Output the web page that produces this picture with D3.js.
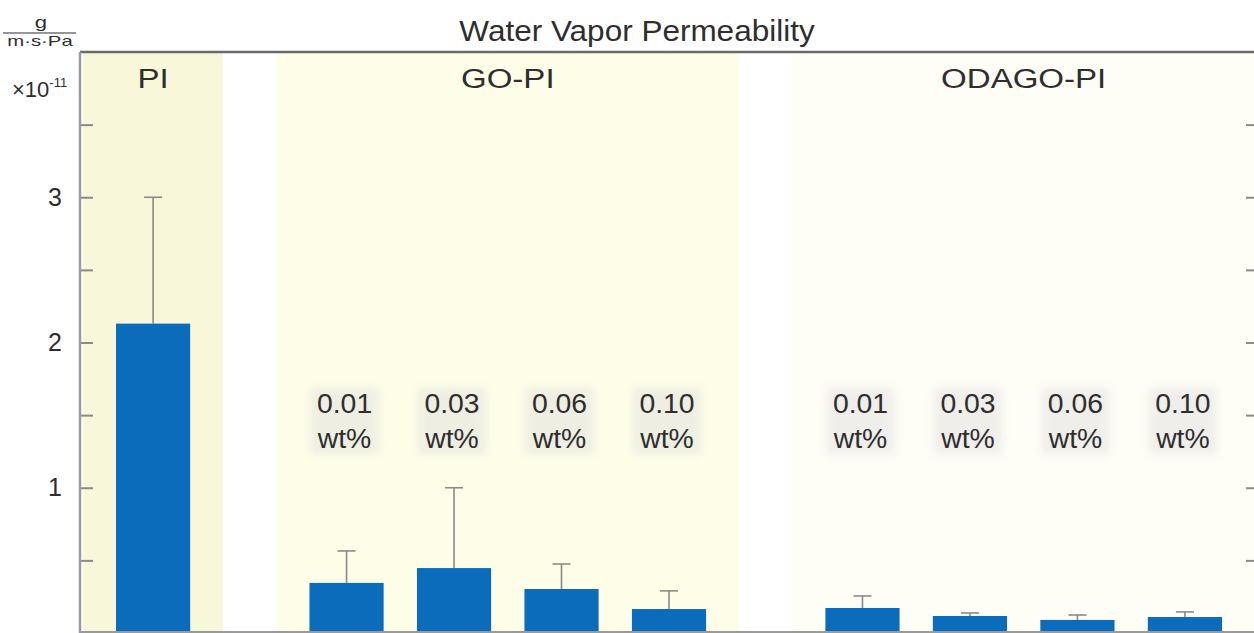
<!DOCTYPE html>
<html>
<head>
<meta charset="utf-8">
<script src="https://cdn.jsdelivr.net/npm/d3@7"></script>
<style>
  html, body { margin: 0; padding: 0; background: #ffffff; }
  svg { display: block; font-family: "Liberation Sans", Arial, sans-serif; }
</style>
</head>
<body>
<svg id="chart" width="1254" height="633"></svg>
<script>
// ---- data ----
const groups = ["PI", "GO-PI", "ODAGO-PI"];
const groupOf = [0, 1, 1, 1, 1, 2, 2, 2, 2];
const concentrations = ["", "0.01", "0.03", "0.06", "0.10", "0.01", "0.03", "0.06", "0.10"];
const values = [2.13, 0.345, 0.447, 0.303, 0.165, 0.172, 0.117, 0.090, 0.110];
const errorTop = [3.00, 0.565, 1.00, 0.475, 0.290, 0.255, 0.138, 0.124, 0.145];
const yTickValues = [0.5, 1, 1.5, 2, 2.5, 3, 3.5];
const yTickLabels = ["", "1", "", "2", "", "3", ""];
const titleText = "Water Vapor Permeability";
const unitNum = "g";
const unitDen = "m·s·Pa";

// ---- layout ----
const svg = d3.select("#chart");
const mLeft = 80, mRight = 1258, mTop = 52, mBottom = 633;
const groupGap = 0.8;
const pos = values.map((v, i) => i + groupGap * groupOf[i]);

const x = d3.scaleLinear().domain([-0.68, 10.28]).range([mLeft, mRight]);
const y = d3.scaleLinear().domain([0, 4]).range([mBottom, mTop]);
const unitW = x(1) - x(0);
const barW = 0.69 * unitW;
const bandPad = 0.65;

const bandColors = ["#f8f7d9", "#fdfde8", "#fefdf6"];
const textColor = "#2e2e2e";

const defs = svg.append("defs");
defs.append("filter").attr("id", "soft").attr("x", "-20%").attr("y", "-20%").attr("width", "140%").attr("height", "140%")
  .append("feGaussianBlur").attr("stdDeviation", 4);

// group background bands
groups.forEach((g, gi) => {
  const ps = pos.filter((p, i) => groupOf[i] === gi);
  const x0 = x(d3.min(ps) - bandPad);
  const x1 = gi === groups.length - 1 ? mRight : x(d3.max(ps) + bandPad);
  svg.append("rect")
    .attr("x", x0).attr("y", mTop).attr("width", x1 - x0).attr("height", mBottom - mTop)
    .attr("fill", bandColors[gi]);
  const cx = (x(d3.min(ps)) + x(d3.max(ps))) / 2;
  svg.append("text")
    .attr("transform", `translate(${cx},88) scale(1.18,1)`)
    .attr("text-anchor", "middle").attr("font-size", 28).attr("fill", textColor)
    .text(g);
});

// concentration labels with soft halo
concentrations.forEach((c, i) => {
  if (!c) return;
  const cx = x(pos[i]) - 2;
  svg.append("rect")
    .attr("x", cx - 34).attr("y", 388).attr("width", 68).attr("height", 66)
    .attr("fill", "#dddddd").attr("opacity", 0.45).attr("filter", "url(#soft)");
  svg.append("text").attr("transform", `translate(${cx},413) scale(1.05,1)`)
    .attr("text-anchor", "middle").attr("font-size", 27).attr("fill", textColor).text(c);
  svg.append("text").attr("transform", `translate(${cx},448) scale(1.05,1)`)
    .attr("text-anchor", "middle").attr("font-size", 27).attr("fill", textColor).text("wt%");
});

// error bars
const eb = svg.append("g").attr("stroke", "#8a8a8a").attr("stroke-width", 1.6).attr("fill", "none");
values.forEach((v, i) => {
  const cx = x(pos[i]);
  eb.append("line").attr("x1", cx).attr("x2", cx).attr("y1", y(v)).attr("y2", y(errorTop[i]));
  eb.append("line").attr("x1", cx - 9).attr("x2", cx + 9).attr("y1", y(errorTop[i])).attr("y2", y(errorTop[i]));
});

// bars
svg.append("g").selectAll("rect").data(values).join("rect")
  .attr("x", (d, i) => x(pos[i]) - barW / 2)
  .attr("y", d => y(d))
  .attr("width", barW)
  .attr("height", d => y(0) - y(d))
  .attr("fill", "#0b6cbb");

// axes
const axL = d3.axisLeft(y).tickValues(yTickValues).tickSize(-13).tickPadding(18)
  .tickFormat((d, i) => yTickLabels[i]);
const gL = svg.append("g").attr("transform", `translate(${mLeft},0)`).call(axL);
gL.select(".domain").remove();
gL.selectAll(".tick line").attr("stroke", "#8a8a8a").attr("stroke-width", 2);
gL.selectAll(".tick text").attr("font-size", 25).attr("fill", textColor)
  .attr("font-family", "Liberation Sans, Arial, sans-serif");

const axR = d3.axisRight(y).tickValues(yTickValues).tickSize(-12).tickFormat("");
const gR = svg.append("g").attr("transform", `translate(${mRight},0)`).call(axR);
gR.select(".domain").remove();
gR.selectAll(".tick line").attr("stroke", "#8a8a8a").attr("stroke-width", 2);

// frame lines
svg.append("line").attr("x1", mLeft).attr("x2", mRight).attr("y1", mTop).attr("y2", mTop)
  .attr("stroke", "#6a6a6a").attr("stroke-width", 2.5);
svg.append("line").attr("x1", mLeft).attr("x2", mLeft).attr("y1", mTop).attr("y2", mBottom)
  .attr("stroke", "#9a9aa2").attr("stroke-width", 2.5);
svg.append("line").attr("x1", mLeft).attr("x2", mRight).attr("y1", mBottom - 1).attr("y2", mBottom - 1)
  .attr("stroke", "#9a9a9a").attr("stroke-width", 2);

// title
svg.append("text").attr("transform", "translate(637,41) scale(1.05,1)").attr("text-anchor", "middle")
  .attr("font-size", 30).attr("fill", textColor).text(titleText);

// unit label
svg.append("text").attr("transform", "translate(41,28) scale(1.3,1)").attr("text-anchor", "middle")
  .attr("font-size", 17).attr("fill", textColor).text(unitNum);
svg.append("line").attr("x1", 3).attr("x2", 76).attr("y1", 33).attr("y2", 33)
  .attr("stroke", textColor).attr("stroke-width", 1.2);
svg.append("text").attr("transform", "translate(40,46) scale(1.45,1)").attr("text-anchor", "middle")
  .attr("font-size", 14).attr("fill", textColor).text(unitDen);
const expo = svg.append("text").attr("x", 12).attr("y", 97).attr("font-size", 22).attr("fill", textColor);
expo.append("tspan").text("×10");
expo.append("tspan").attr("font-size", 13).attr("dy", -10).text("-11");
</script>
</body>
</html>
